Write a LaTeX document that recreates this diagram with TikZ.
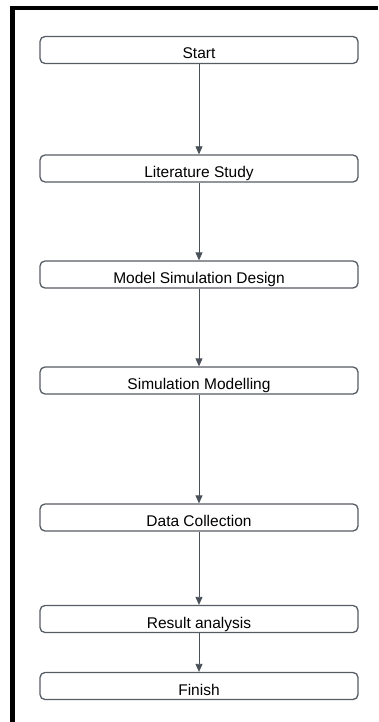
\documentclass[tikz,border=0pt]{standalone}
\usepackage{fontspec}
\setmainfont{Liberation Sans}
\usetikzlibrary{arrows.meta}
\definecolor{boxgray}{HTML}{565C64}
\definecolor{arrowgray}{HTML}{4A5058}
\tikzset{
  stepbox/.style={draw=boxgray, line width=1.3pt, rounded corners=5pt,
    minimum width=318pt, minimum height=27pt, inner sep=0pt,
    text height=18pt, text depth=0pt,
    font=\fontsize{15.5}{18}\selectfont},
  flow/.style={arrowgray, line width=0.8pt, -{Triangle[length=8pt,width=7pt]}}
}
\begin{document}
\begin{tikzpicture}[x=1pt,y=-1pt]
\useasboundingbox (0,0) rectangle (378,722);
% frame
\draw[black, line width=4.5pt] (12.5,722) -- (12.5,8) -- (378,8);
% steps
\node[stepbox] (start)  at (199,50)    {Start};
\node[stepbox] (lit)    at (199,168.5) {Literature Study};
\node[stepbox] (design) at (199,274.5) {Model Simulation Design};
\node[stepbox] (model)  at (199,380.5) {Simulation Modelling};
\node[stepbox] (data)   at (199,517.5) {Data Collection};
\node[stepbox] (result) at (199,619)   {Result analysis};
\node[stepbox] (finish) at (199,686)   {Finish};
% connectors
\foreach \a/\b in {start/lit,lit/design,design/model,model/data,data/result,result/finish}
  \draw[flow] (\a) -- (\b);
\end{tikzpicture}
\end{document}
